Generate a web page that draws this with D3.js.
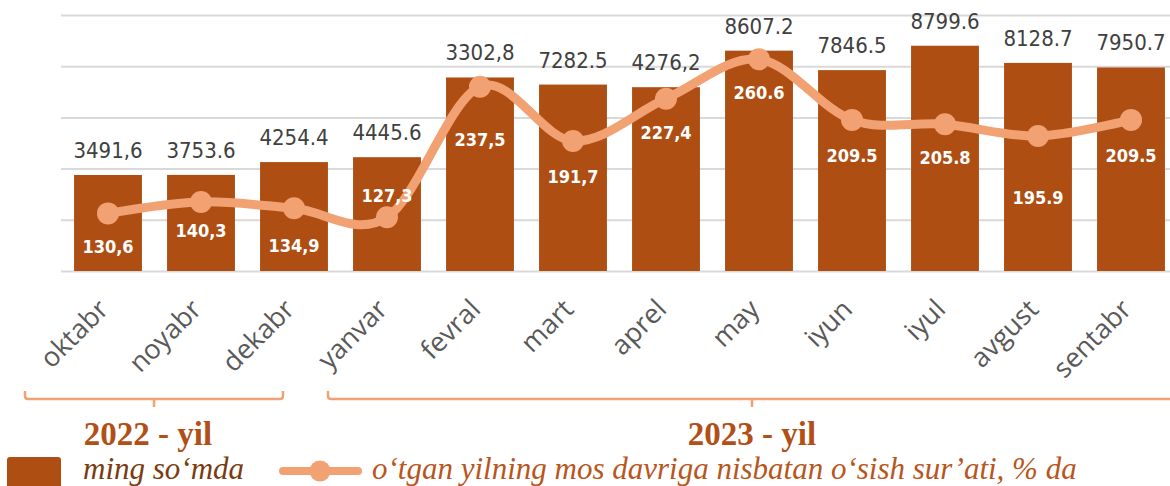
<!DOCTYPE html>
<html>
<head>
<meta charset="utf-8">
<script src="https://cdn.jsdelivr.net/npm/d3@7"></script>
<style>
  html, body { margin: 0; padding: 0; background: #fff; }
  svg { display: block; }
</style>
</head>
<body>
<svg id="chart" width="1170" height="486"></svg>
<script>
// months shown on the x axis
const months = ['oktabr', 'noyabr', 'dekabr', 'yanvar', 'fevral', 'mart',
  'aprel', 'may', 'iyun', 'iyul', 'avgust', 'sentabr'];

// bar heights as drawn (ming so'mda)
const barValues = [3750, 3753.6, 4254.4, 4445.6, 7560, 7282.5,
  7180, 8607.2, 7846.5, 8799.6, 8128.7, 7950.7];
// bar labels as printed
const barLabels = ['3491,6', '3753.6', '4254.4', '4445.6', '3302,8', '7282.5',
  '4276,2', '8607.2', '7846.5', '8799.6', '8128.7', '7950.7'];

// growth rate, % (line series)
const lineValues = [130.6, 140.3, 134.9, 127.3, 237.5, 191.7,
  227.4, 260.6, 209.5, 205.8, 195.9, 209.5];
const lineLabels = ['130,6', '140,3', '134,9', '127,3', '237,5', '191,7',
  '227,4', '260.6', '209.5', '205.8', '195.9', '209.5'];

// primary axis gridlines
const gridTicks = [0, 2000, 4000, 6000, 8000, 10000];

// year groups under the axis
const yearLabels = ['2022 - yil', '2023 - yil'];

// layout only: bracket extents [left, middle, right], year label centres, line label shifts
const bracketX = [[25, 154, 283], [328, 752, 1180]];
const yearLabelX = [148, 752];
const lineLabelDy = [40, 35, 44, -15, 59, 42, 40, 40, 42, 40, 68, 42];

const barColor = '#ae4e13';
const lineColor = '#f2a172';

const svg = d3.select('#chart');

const x = d3.scaleBand()
  .domain(months)
  .range([61.5, 1177.5])
  .paddingInner(0.27)
  .paddingOuter(0.135);

const y = d3.scaleLinear().domain([0, 10000]).range([271, 15]);
const y2 = d3.scaleLinear().domain([82, 298]).range([271, 15]);

// gridlines
svg.append('g')
  .attr('transform', 'translate(61,0)')
  .call(d3.axisLeft(y).tickValues(gridTicks).tickSize(-1115).tickFormat(''))
  .call(g => g.select('.domain').remove())
  .call(g => g.selectAll('line').attr('stroke', '#d9d9d9').attr('stroke-width', 2));

// bars
svg.append('g').selectAll('rect')
  .data(barValues)
  .enter().append('rect')
    .attr('x', (d, i) => x(months[i]))
    .attr('y', d => y(d))
    .attr('width', x.bandwidth())
    .attr('height', d => y(0) - y(d))
    .attr('fill', barColor);

// bar value labels
svg.append('g').selectAll('text')
  .data(barValues)
  .enter().append('text')
    .attr('x', (d, i) => x(months[i]) + x.bandwidth() / 2)
    .attr('y', d => y(d) - 17)
    .attr('text-anchor', 'middle')
    .style('font-family', '"DejaVu Sans Condensed", "DejaVu Sans", sans-serif')
    .style('font-size', '22px')
    .style('fill', '#404040')
    .text((d, i) => barLabels[i]);

// smoothed line
const cx = (d, i) => x(months[i]) + x.bandwidth() / 2;
const line = d3.line()
  .x(cx)
  .y(d => y2(d))
  .curve(d3.curveCardinal.tension(0));

svg.append('path')
  .datum(lineValues)
  .attr('d', line)
  .attr('fill', 'none')
  .attr('stroke', lineColor)
  .attr('stroke-width', 9)
  .attr('stroke-linecap', 'round');

svg.append('g').selectAll('circle')
  .data(lineValues)
  .enter().append('circle')
    .attr('cx', cx)
    .attr('cy', d => y2(d))
    .attr('r', 11)
    .attr('fill', lineColor);

// line value labels
svg.append('g').selectAll('text')
  .data(lineValues)
  .enter().append('text')
    .attr('x', cx)
    .attr('y', (d, i) => y2(d) + lineLabelDy[i])
    .attr('text-anchor', 'middle')
    .style('font-family', '"DejaVu Sans Condensed", "DejaVu Sans", sans-serif')
    .style('font-weight', 'bold')
    .style('font-size', '18px')
    .style('fill', '#fff')
    .text((d, i) => lineLabels[i]);

// month labels, rotated
svg.append('g').selectAll('text')
  .data(months)
  .enter().append('text')
    .attr('transform', d => `translate(${x(d) + x.bandwidth() / 2 + 2}, 311) rotate(-45)`)
    .attr('text-anchor', 'end')
    .style('font-family', '"Open Sans", sans-serif')
    .style('font-size', '27px')
    .style('fill', '#595959')
    .text(d => d);

// year brackets
const bracketY = 399;
yearLabels.forEach((label, k) => {
  const [x0, mid, x1] = bracketX[k];
  const r = 3;
  const p = d3.path();
  p.moveTo(x0, bracketY - 8);
  p.lineTo(x0, bracketY - r);
  p.quadraticCurveTo(x0, bracketY, x0 + r, bracketY);
  p.lineTo(x1 - r, bracketY);
  p.quadraticCurveTo(x1, bracketY, x1, bracketY - r);
  p.lineTo(x1, bracketY - 8);
  p.moveTo(mid, bracketY);
  p.lineTo(mid, bracketY + 8);
  svg.append('path')
    .attr('d', p.toString())
    .attr('fill', 'none')
    .attr('stroke', lineColor)
    .attr('stroke-width', 2.5);

  svg.append('text')
    .attr('x', yearLabelX[k])
    .attr('y', 445)
    .attr('text-anchor', 'middle')
    .style('font-family', '"Liberation Serif", "Times New Roman", serif')
    .style('font-weight', 'bold')
    .style('font-size', '33px')
    .style('fill', '#b14f17')
    .text(label);
});

// legend
const legend = svg.append('g');
legend.append('rect')
  .attr('x', 7).attr('y', 457)
  .attr('width', 54).attr('height', 40)
  .attr('rx', 3)
  .attr('fill', barColor);
legend.append('text')
  .attr('x', 83).attr('y', 479)
  .style('font-family', '"Liberation Serif", serif')
  .style('font-style', 'italic')
  .style('font-size', '31px')
  .style('fill', '#7b3b10')
  .text('ming so‘mda');

legend.append('line')
  .attr('x1', 283).attr('x2', 358)
  .attr('y1', 471).attr('y2', 471)
  .attr('stroke', lineColor)
  .attr('stroke-width', 8)
  .attr('stroke-linecap', 'round');
legend.append('circle')
  .attr('cx', 320).attr('cy', 471)
  .attr('r', 10.5)
  .attr('fill', lineColor);
legend.append('text')
  .attr('x', 372).attr('y', 479)
  .style('font-family', '"Liberation Serif", serif')
  .style('font-style', 'italic')
  .style('font-size', '31px')
  .style('fill', '#b8561d')
  .text('o‘tgan yilning mos davriga nisbatan o‘sish sur’ati, % da');
</script>
</body>
</html>
